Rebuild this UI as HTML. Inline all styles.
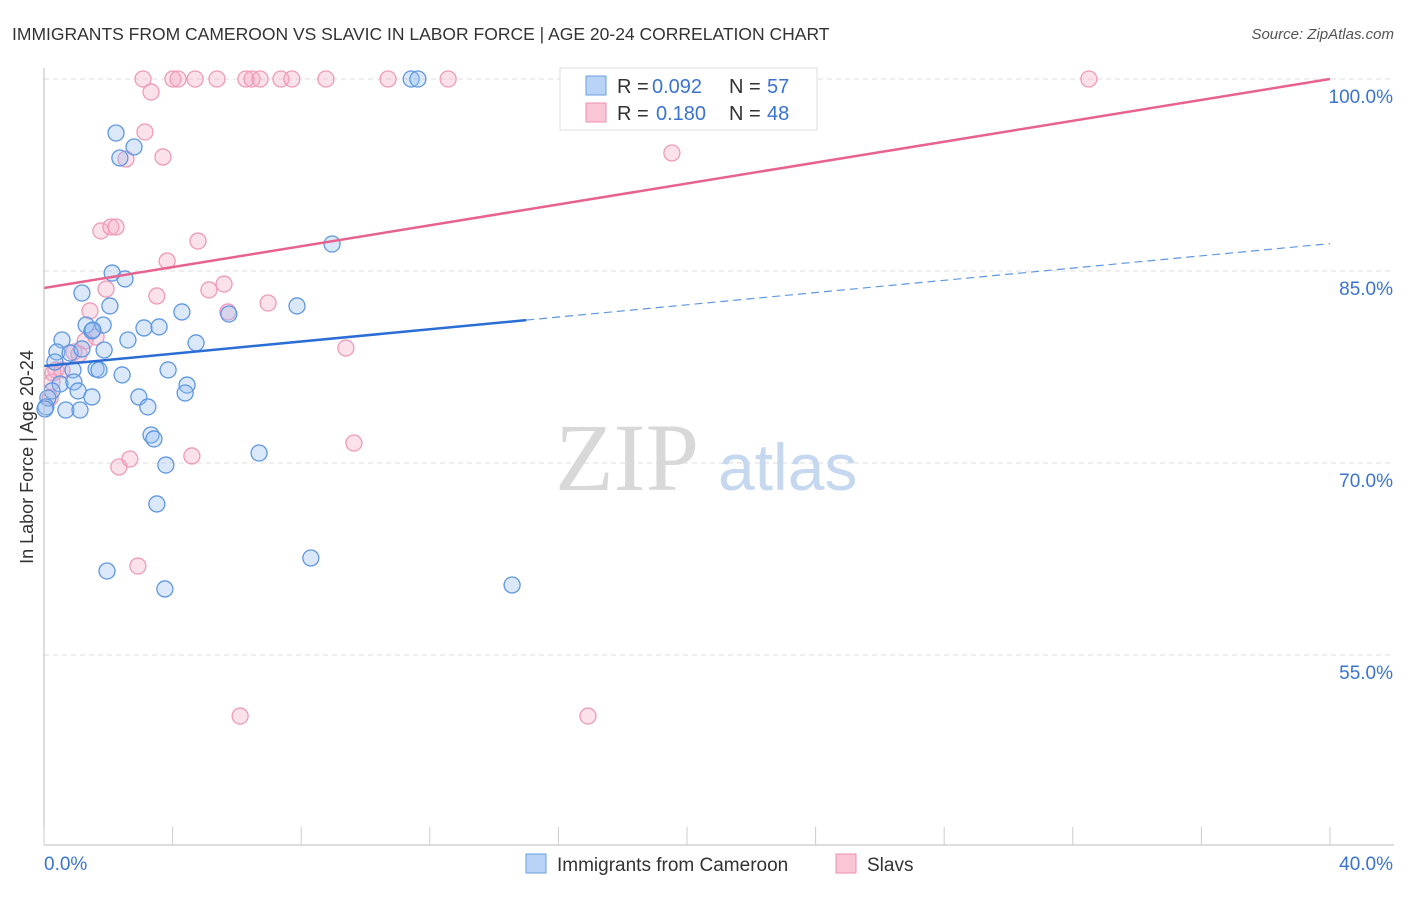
<!DOCTYPE html>
<html><head><meta charset="utf-8">
<style>
body{margin:0;background:#fff;font-family:"Liberation Sans",sans-serif;}
svg text{font-family:"Liberation Sans",sans-serif;}
</style></head>
<body>
<svg id="chart" width="1406" height="892" xmlns="http://www.w3.org/2000/svg">
<text x="12" y="40" font-size="17.5" fill="#333">IMMIGRANTS FROM CAMEROON VS SLAVIC IN LABOR FORCE | AGE 20-24 CORRELATION CHART</text>
<text x="1394" y="39" font-size="15" fill="#555" text-anchor="end" font-style="italic">Source: ZipAtlas.com</text>
<text transform="translate(33,457) rotate(-90)" font-size="18" fill="#333" text-anchor="middle">In Labor Force | Age 20-24</text>
<g id="grid"></g>
<g id="watermark">
<text x="555" y="490" font-size="96" fill="#d8d8d8" style="font-family:'Liberation Serif',serif">ZIP</text>
<text x="718" y="490" font-size="66" fill="#c6d8f0">atlas</text>
</g>
<g id="pts"></g>
<g id="lines"></g>
<g id="axes"></g>
<g>
<rect x="560" y="68" width="257" height="62" fill="#fff" stroke="#ddd"/>
<rect x="586" y="76" width="20" height="19" fill="#b8d3f5" stroke="#6a9fe0"/>
<rect x="586" y="103" width="20" height="19" fill="#fac6d6" stroke="#ec8fb0"/>
<text x="617" y="93" font-size="20" fill="#333">R =</text>
<text x="652" y="93" font-size="20" fill="#3a74d0">0.092</text>
<text x="729" y="93" font-size="20" fill="#333">N =</text>
<text x="767" y="93" font-size="20" fill="#3a74d0">57</text>
<text x="617" y="120" font-size="20" fill="#333">R =</text>
<text x="656" y="120" font-size="20" fill="#3a74d0">0.180</text>
<text x="729" y="120" font-size="20" fill="#333">N =</text>
<text x="767" y="120" font-size="20" fill="#3a74d0">48</text>
</g>
<g>
<rect x="526" y="854" width="20" height="19" fill="#b8d3f5" stroke="#6a9fe0"/>
<text x="557" y="871" font-size="19" fill="#333">Immigrants from Cameroon</text>
<rect x="836" y="854" width="20" height="19" fill="#fac6d6" stroke="#ec8fb0"/>
<text x="867" y="871" font-size="19" fill="#333">Slavs</text>
</g>
</svg>
<script>
const xTicks=[0,4,8,12,16,20,24,28,32,36,40];
const yTicks=[100,85,70,55];
const yTickLabels=["100.0%","85.0%","70.0%","55.0%"];
const xLabels=["0.0%","40.0%"];
const blueX=[2.24,2.80,2.36,2.12,2.52,1.18,2.05,1.31,1.49,1.84,0.56,1.52,2.61,3.11,3.58,4.29,5.75,7.87,8.96,4.73,0.40,0.81,1.87,1.18,1.62,1.71,0.90,0.34,2.43,3.86,0.50,0.93,0.25,1.06,1.49,2.95,4.45,4.39,3.23,0.68,1.12,0.12,0.06,3.33,3.42,3.79,6.69,3.51,8.30,1.96,3.76,14.56,11.42,11.63,0.03];
const blueY=[95.78,94.69,93.83,84.84,84.38,83.28,82.27,80.78,80.31,80.78,79.61,80.39,79.61,80.55,80.63,81.80,81.64,82.27,87.11,79.38,78.67,78.59,78.83,78.91,77.34,77.27,77.27,77.89,76.88,77.27,76.17,76.33,75.63,75.63,75.16,75.16,76.09,75.47,74.38,74.14,74.14,75.08,74.38,72.19,71.88,69.84,70.78,66.80,62.58,61.56,60.16,60.47,100,100,74.22];
const pinkX=[3.08,4.01,4.17,4.70,5.38,6.28,6.47,6.72,7.37,7.71,8.77,10.70,12.57,32.50,3.33,3.14,2.55,3.70,19.53,1.77,2.08,2.24,4.79,3.83,5.60,5.13,1.93,3.51,6.97,5.72,1.43,1.62,1.28,0.93,1.09,9.39,0.37,0.56,0.25,0.28,9.64,2.67,4.60,2.33,2.92,6.10,16.92,0.19];
const pinkY=[100,100,100,100,100,100,100,100,100,100,100,100,100,100,98.98,95.86,93.75,93.91,94.22,88.13,88.44,88.44,87.34,85.78,83.98,83.52,83.59,83.05,82.50,81.80,81.88,79.84,79.53,78.67,78.52,78.98,77.27,77.27,76.33,77.03,71.56,70.31,70.55,69.69,61.95,50.23,50.23,75.08];
const blueTrend=[77.58,87.14];
const pinkTrend=[83.67,100];
const blueSolidEnd=15.0;

const NS="http://www.w3.org/2000/svg";
const X=v=>44+v*32.15;
const Y=v=>79+(100-v)*12.8;
function mk(tag,attrs,parent){const e=document.createElementNS(NS,tag);for(const k in attrs)e.setAttribute(k,attrs[k]);parent.appendChild(e);return e;}
const grid=document.getElementById('grid'),axes=document.getElementById('axes'),pts=document.getElementById('pts'),lines=document.getElementById('lines');
yTicks.forEach((t,i)=>{
  const l=mk('line',{x1:44,x2:1394,y1:Y(t),y2:Y(t),stroke:'#ddd','stroke-dasharray':'5,4'},grid);
  
  
  const tx=mk('text',{x:1393,y:Y(t)+24,'font-size':19,fill:'#3a74d0','text-anchor':'end'},axes);
  tx.textContent=yTickLabels[i];
  
  
});
mk('line',{x1:44,x2:44,y1:68,y2:845,stroke:'#bbb'},axes);
mk('line',{x1:44,x2:1394,y1:845,y2:845,stroke:'#bbb'},axes);
xTicks.forEach(t=>{
  const l=mk('line',{x1:X(t),x2:X(t),y1:827,y2:845,stroke:'#ccc'},axes);
  
  
});
const xl0=mk('text',{x:44,y:870,'font-size':19,fill:'#3a74d0'},axes);xl0.textContent=xLabels[0];


const xl1=mk('text',{x:1393,y:870,'font-size':19,fill:'#3a74d0','text-anchor':'end'},axes);xl1.textContent=xLabels[1];


pinkX.forEach((v,i)=>{
  const c=mk('circle',{cx:X(v),cy:Y(pinkY[i]),r:8,fill:'rgba(244,170,195,0.35)',stroke:'#ee9ab8','stroke-width':1.3},pts);
  
  
});
blueX.forEach((v,i)=>{
  const c=mk('circle',{cx:X(v),cy:Y(blueY[i]),r:8,fill:'rgba(150,190,240,0.35)',stroke:'#5f97e0','stroke-width':1.3},pts);
  
  
});
const by=x=>blueTrend[0]+(blueTrend[1]-blueTrend[0])*x/40;
const pl=mk('line',{x1:X(0),y1:Y(pinkTrend[0]),x2:X(40),y2:Y(pinkTrend[1]),stroke:'#e8628f','stroke-width':2.5},lines);


const bl=mk('line',{x1:X(0),y1:Y(by(0)),x2:X(blueSolidEnd),y2:Y(by(blueSolidEnd)),stroke:'#2a6dd4','stroke-width':2.5},lines);


const bd=mk('line',{x1:X(blueSolidEnd),y1:Y(by(blueSolidEnd)),x2:X(40),y2:Y(by(40)),stroke:'#5f97e0','stroke-width':1.2,'stroke-dasharray':'8,5'},lines);


</script>
</body></html>
